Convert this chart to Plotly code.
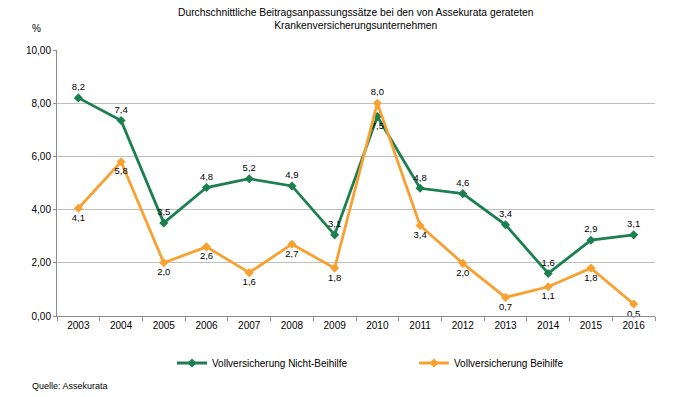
import plotly.graph_objects as go

years = ["2003", "2004", "2005", "2006", "2007", "2008", "2009", "2010",
         "2011", "2012", "2013", "2014", "2015", "2016"]
nicht_beihilfe = [8.2, 7.35, 3.5, 4.83, 5.16, 4.89, 3.05, 7.5, 4.8, 4.6, 3.43, 1.6, 2.85, 3.05]
nicht_beihilfe_labels = ["8,2", "7,4", "3,5", "4,8", "5,2", "4,9", "3,1", "7,5", "4,8", "4,6", "3,4", "1,6", "2,9", "3,1"]
beihilfe = [4.05, 5.8, 2.0, 2.6, 1.63, 2.7, 1.8, 8.0, 3.4, 1.98, 0.7, 1.1, 1.8, 0.45]
beihilfe_labels = ["4,1", "5,8", "2,0", "2,6", "1,6", "2,7", "1,8", "8,0", "3,4", "2,0", "0,7", "1,1", "1,8", "0,5"]
y_ticks = [0, 2, 4, 6, 8, 10]
y_tick_labels = ["0,00", "2,00", "4,00", "6,00", "8,00", "10,00"]

GREEN = "#1B7F4F"
ORANGE = "#F9A130"
FONT = "Liberation Sans, Arial, sans-serif"

green_pos = ["top center"] * len(years)
green_pos[7] = "bottom center"
orange_pos = ["bottom center"] * len(years)
orange_pos[7] = "top center"

fig = go.Figure()
fig.add_trace(go.Scatter(
    x=years, y=nicht_beihilfe, name="Vollversicherung Nicht-Beihilfe",
    mode="lines+markers+text", text=nicht_beihilfe_labels, textposition=green_pos,
    textfont=dict(size=9.5, color="#000000", family=FONT),
    line=dict(color=GREEN, width=2.8),
    marker=dict(symbol="diamond", size=7, color=GREEN),
    cliponaxis=False,
))
fig.add_trace(go.Scatter(
    x=years, y=beihilfe, name="Vollversicherung Beihilfe",
    mode="lines+markers+text", text=beihilfe_labels, textposition=orange_pos,
    textfont=dict(size=9.5, color="#000000", family=FONT),
    line=dict(color=ORANGE, width=2.8),
    marker=dict(symbol="diamond", size=7, color=ORANGE),
    cliponaxis=False,
))

fig.update_layout(
    width=690, height=397,
    margin=dict(l=57, r=35, t=49.5, b=80.5, autoexpand=False),
    paper_bgcolor="white", plot_bgcolor="white",
    font=dict(family=FONT, size=10, color="#000000"),
    showlegend=True,
    legend=dict(orientation="h", xref="container", yref="container",
                x=172 / 690, y=1 - 363 / 397, xanchor="left", yanchor="middle",
                entrywidth=197, entrywidthmode="pixels", itemwidth=30,
                font=dict(size=10, family=FONT), bgcolor="rgba(0,0,0,0)"),
    xaxis=dict(type="category", range=[-0.5, 13.5], showgrid=False,
               showline=True, linecolor="#8C8C8C", linewidth=1,
               ticks="outside", tickson="boundaries", ticklen=4, tickcolor="#8C8C8C",
               tickfont=dict(size=10), fixedrange=True),
    yaxis=dict(range=[0, 10], tickvals=y_ticks, ticktext=y_tick_labels,
               showgrid=True, gridcolor="#BEBEBE", gridwidth=1,
               showline=True, linecolor="#8C8C8C", linewidth=1,
               ticks="outside", ticklen=3, tickcolor="#8C8C8C",
               tickfont=dict(size=10), zeroline=False, fixedrange=True),
    annotations=[
        dict(text="Durchschnittliche Beitragsanpassungssätze bei den von Assekurata gerateten<br>Krankenversicherungsunternehmen",
             xref="paper", yref="paper", x=0.5, y=1.0, yshift=45, xanchor="center", yanchor="top",
             showarrow=False, font=dict(size=10.3, family=FONT)),
        dict(text="%", xref="paper", yref="paper", x=-0.035, y=1.0, yshift=22,
             xanchor="center", yanchor="middle", showarrow=False, font=dict(size=10, family=FONT)),
        dict(text="Quelle: Assekurata", xref="paper", yref="paper", x=-0.045, y=0, yshift=-70,
             xanchor="left", yanchor="middle", showarrow=False, font=dict(size=9, family=FONT)),
    ],
)

fig.write_html("out.html", config={"displayModeBar": False},
               post_script="document.body.style.margin='0';")
